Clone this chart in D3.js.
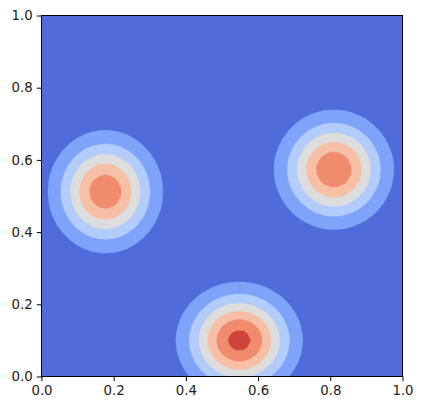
<!DOCTYPE html>
<html>
<head>
<meta charset="utf-8">
<script src="https://cdn.jsdelivr.net/npm/d3@7"></script>
<style>
  html, body { margin: 0; padding: 0; background: #fff; }
  svg { display: block; }
  .tick text { font-family: "DejaVu Sans", sans-serif; font-size: 13.3px; fill: #222; }
</style>
</head>
<body>
<svg id="chart" width="423" height="409"></svg>
<script>
// ---- data ----
const levels = [0, 0.2, 0.4, 0.6, 0.8, 1.0, 1.2, 1.4];
const blobX = [0.177, 0.810, 0.548];
const blobY = [0.512, 0.573, 0.100];
const blobPeak = [1.145, 1.17, 1.275];
const blobSigmaX = [0.085, 0.088, 0.091];
const blobSigmaY = [0.091, 0.088, 0.084];
const xTicks = [0, 0.2, 0.4, 0.6, 0.8, 1.0];
const yTicks = [0, 0.2, 0.4, 0.6, 0.8, 1.0];
const gridSize = 51;

// coolwarm colours at the band midpoints
const bandColors = ["rgb(80,108,218)", "rgb(128,163,250)", "rgb(178,204,251)",
  "rgb(221,221,221)", "rgb(246,191,166)", "rgb(240,139,109)", "rgb(206,67,59)"];

const svg = d3.select("#chart");
const plotL = 41.5, plotR = 402.5, plotT = 15.5, plotB = 376.5;
const x = d3.scaleLinear().domain([0, 1]).range([plotL, plotR]);
const y = d3.scaleLinear().domain([0, 1]).range([plotB, plotT]);

// field on grid
const N = gridSize;
const values = new Array(N * N);
for (let j = 0; j < N; j++) {
  const yy = j / (N - 1);
  for (let i = 0; i < N; i++) {
    const xx = i / (N - 1);
    let v = 0;
    for (let k = 0; k < blobX.length; k++) {
      const dx = (xx - blobX[k]) / blobSigmaX[k];
      const dy = (yy - blobY[k]) / blobSigmaY[k];
      v += blobPeak[k] * Math.exp(-0.5 * (dx * dx + dy * dy));
    }
    values[j * N + i] = v;
  }
}

svg.append("defs").append("clipPath").attr("id", "clip")
  .append("rect").attr("x", plotL).attr("y", plotT)
  .attr("width", plotR - plotL).attr("height", plotB - plotT);

const g = svg.append("g").attr("clip-path", "url(#clip)");
g.append("rect").attr("x", plotL).attr("y", plotT)
  .attr("width", plotR - plotL).attr("height", plotB - plotT)
  .attr("fill", bandColors[0]);

const thresholds = levels.slice(1, levels.length - 1);
const contours = d3.contours().size([N, N]).thresholds(thresholds)(values);

const proj = d3.geoTransform({
  point: function(px, py) {
    this.stream.point(x((px - 0.5) / (N - 1)), y((py - 0.5) / (N - 1)));
  }
});
const path = d3.geoPath(proj);

g.selectAll("path.band").data(contours).join("path")
  .attr("class", "band")
  .attr("d", path)
  .attr("fill", (d, i) => bandColors[i + 1])
  .attr("stroke", (d, i) => bandColors[i + 1])
  .attr("stroke-width", 0.4);

// axes
const xAxis = d3.axisBottom(x).tickValues(xTicks).tickFormat(d3.format(".1f"))
  .tickSize(4.7).tickPadding(4.2).tickSizeOuter(0);
const yAxis = d3.axisLeft(y).tickValues(yTicks).tickFormat(d3.format(".1f"))
  .tickSize(4.7).tickPadding(4.2).tickSizeOuter(0);

const gx = svg.append("g").attr("transform", `translate(0,${plotB})`).call(xAxis);
const gy = svg.append("g").attr("transform", `translate(${plotL},0)`).call(yAxis);
[gx, gy].forEach(a => {
  a.select(".domain").remove();
  a.selectAll(".tick line").attr("stroke", "#000").attr("stroke-width", 1);
});

svg.append("rect").attr("x", plotL).attr("y", plotT)
  .attr("width", plotR - plotL).attr("height", plotB - plotT)
  .attr("fill", "none").attr("stroke", "#000").attr("stroke-width", 1);
</script>
</body>
</html>
